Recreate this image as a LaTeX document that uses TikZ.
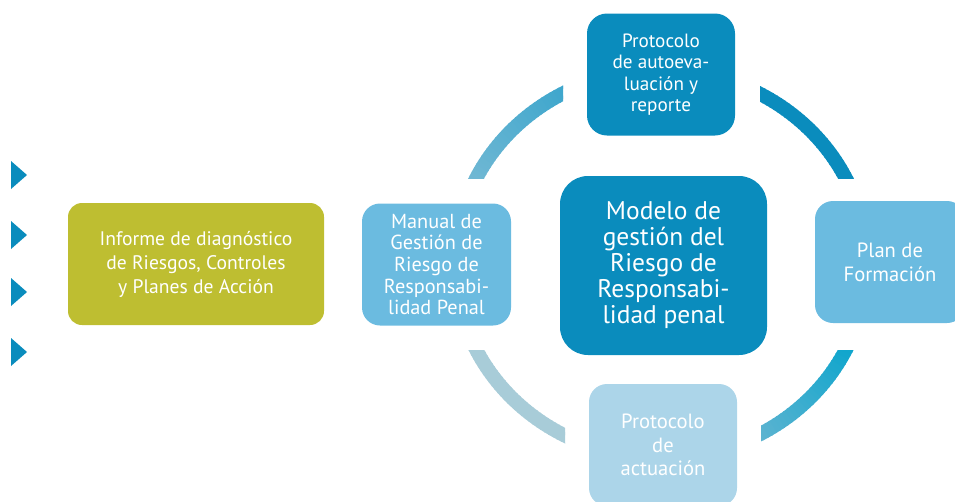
\documentclass[tikz,border=0pt]{standalone}
\usepackage{fontspec}
\setmainfont{PT Sans}
\definecolor{dblue}{HTML}{0A8CBD}
\definecolor{mblue}{HTML}{6BBBE0}
\definecolor{lblue}{HTML}{ACD5E9}
\definecolor{oliveg}{HTML}{BEBE31}
\definecolor{tlA}{HTML}{79BBD5}
\definecolor{tlB}{HTML}{35A3CB}
\definecolor{brA}{HTML}{00A3CC}
\definecolor{brB}{HTML}{6CB6D1}
\definecolor{blC}{HTML}{A8CCD8}
\newcommand{\gradarc}[4]{%
  \foreach \k in {0,...,39}{%
    \pgfmathsetmacro\ta{#1+(#2-#1)*\k/40}%
    \pgfmathsetmacro\tb{#1+(#2-#1)*(\k+1.3)/40}%
    \pgfmathsetmacro\pc{100*\k/39}%
    \draw[line width=14pt, color=#4!\pc!#3] plot[domain=\ta:\tb, samples=4, smooth] ({661+206*cos(\x)},{264+194*sin(\x)});
  }}
\begin{document}
\begin{tikzpicture}[x=1pt,y=-1pt,
  box/.style={rounded corners=18pt, inner sep=0pt, align=center, text=white, font=\fontsize{17}{21.5}\selectfont}]
\useasboundingbox (0,0) rectangle (955,501);
\clip (0,0) rectangle (955,501);
% arcs
\begin{scope}
  \clip (0,0) rectangle (563,178);
  \gradarc{198}{250}{tlA}{tlB}
\end{scope}
\begin{scope}
  \clip (760,0) rectangle (955,178);
  \gradarc{290}{342}{dblue}{dblue}
\end{scope}
\begin{scope}
  \clip (761,350) rectangle (955,501);
  \gradarc{18}{70}{brA}{brB}
\end{scope}
\begin{scope}
  \clip (0,350) rectangle (565,501);
  \gradarc{110}{162}{blC}{blC}
\end{scope}
% bullets
\foreach \yy/\nm in {175/b1,235/b2,292/b3,352/b4}{
  \fill[dblue] (11,\yy-14) -- (27,\yy) -- (11,\yy+14) -- cycle;
}
% boxes
\node[box, fill=oliveg, minimum width=256pt, minimum height=122pt, rounded corners=14pt,
  font=\fontsize{19.6}{24}\selectfont] (inf) at (196,264)
  {Informe de diagnóstico\\de Riesgos, Controles\\y Planes de Acción};
\node[box, fill=mblue, minimum width=149pt, minimum height=122pt,
  font=\fontsize{20.3}{21.7}\selectfont] (man) at (436.5,264.5)
  {Manual de\\Gestión de\\Riesgo de\\Responsabi-\\lidad Penal};
\node[box, fill=dblue, minimum width=207pt, minimum height=179pt, rounded corners=28pt,
  font=\fontsize{25.5}{26}\selectfont] (mod) at (663.5,265.5)
  {Modelo de\\gestión del\\Riesgo de\\Responsabi-\\lidad penal};
\node[box, fill=dblue, minimum width=148pt, minimum height=122pt, rounded corners=20pt,
  font=\fontsize{19.2}{21.3}\selectfont] (top) at (661,74.5)
  {Protocolo\\de autoeva-\\luación y\\reporte};
\node[box, fill=mblue, minimum width=150pt, minimum height=122pt, font=\fontsize{20.6}{24}\selectfont] (plan) at (890,262)
  {Plan de\\Formación};
\node[box, fill=lblue, minimum width=148pt, minimum height=122pt, font=\fontsize{20.6}{23.5}\selectfont] (act) at (663,445)
  {Protocolo\\de\\actuación};
\end{tikzpicture}
\end{document}
